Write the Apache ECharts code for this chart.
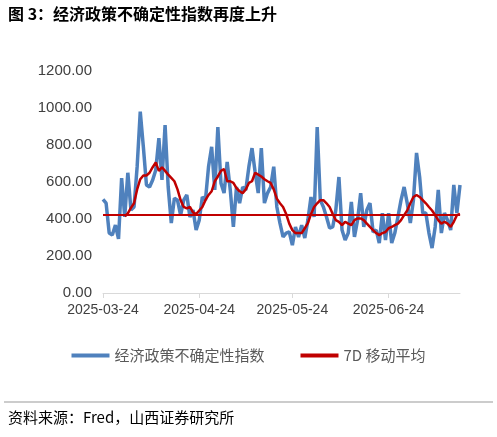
<!DOCTYPE html>
<html><head><meta charset="utf-8">
<script src="https://cdn.jsdelivr.net/npm/echarts@6/dist/echarts.min.js"></script>
<style>body{margin:0;background:#fff}#c{width:497px;height:437px}</style>
</head><body><div id="c"></div>
<script>
const startDate = '2025-03-24';
const epu = [506,486,324,313,367,292,621,411,650,449,465,683,980,790,584,573,611,665,837,611,908,573,378,513,502,421,502,530,411,449,
340,394,519,502,683,790,557,897,594,540,708,557,357,573,486,573,557,683,783,654,540,783,486,540,573,683,465,378,303,
324,330,259,357,303,367,297,394,519,411,897,502,465,411,351,357,449,627,340,286,324,492,303,394,540,357,449,486,330,340,
270,432,286,432,270,324,411,502,573,486,378,502,757,627,432,432,324,243,357,557,324,432,394,340,584,432,584];
const ma7 = [null,null,null,null,null,null,null,415,430,460,485,560,615,635,635,650,680,706,660,680,660,640,622,604,560,502,465,457,465,436,
427,446,465,502,530,550,604,630,660,670,604,604,595,567,550,540,560,595,604,650,640,630,615,604,595,560,510,485,465,
427,375,340,324,324,324,350,378,427,465,485,502,502,485,465,427,394,385,367,385,375,367,394,403,403,394,375,357,340,324,
313,324,330,350,357,367,375,394,421,446,485,519,530,519,502,485,465,446,421,394,375,385,375,357,385,421,427];
const baseline = 425;
const names = ['经济政策不确定性指数','7D 移动平均'];

const dates = [];
const d0 = new Date(startDate + 'T00:00:00Z');
for (let i = 0; i < epu.length; i++) {
  const d = new Date(d0.getTime() + i * 86400000);
  dates.push(d.toISOString().slice(0,10));
}
const isTick = (i, v) => v.endsWith('-24');
const chart = echarts.init(document.getElementById('c'));
chart.setOption({
  animation:false,
  graphic:[
    {type:'text',left:8,top:6,style:{text:'图 3：经济政策不确定性指数再度上升',font:'bold 16px "Noto Sans CJK SC"',fill:'#000'}},
    {type:'line',shape:{x1:4,y1:402,x2:493,y2:402},style:{stroke:'#999',lineWidth:1}},
    {type:'text',left:8,top:410,style:{text:'资料来源：Fred，山西证券研究所',font:'15px "Noto Sans CJK SC"',fill:'#000'}}
  ],
  legend:{top:343,left:'center',itemWidth:38,itemHeight:4,itemGap:36,
    textStyle:{color:'#595959',fontSize:15,fontFamily:'Noto Sans CJK SC'},
    data:[{name:names[0],icon:'rect'},{name:names[1],icon:'rect'}]},
  grid:{left:103,right:37,top:71,bottom:144},
  xAxis:{type:'category',data:dates,boundaryGap:false,
    axisLine:{lineStyle:{color:'#d9d9d9'}},
    axisTick:{interval:isTick,lineStyle:{color:'#d9d9d9'}},
    axisLabel:{interval:isTick,color:'#404040',fontSize:14,fontFamily:'Liberation Sans',margin:10}},
  yAxis:{type:'value',min:0,max:1200,interval:200,
    axisLine:{show:false},axisTick:{show:false},splitLine:{show:false},
    axisLabel:{formatter:v=>v.toFixed(2),color:'#404040',fontSize:15,fontFamily:'Liberation Sans',margin:11}},
  series:[
    {name:names[0],type:'line',data:epu,symbol:'none',lineStyle:{color:'#4f81bd',width:3.5},itemStyle:{color:'#4f81bd'},
     markLine:{silent:true,symbol:'none',label:{show:false},lineStyle:{color:'#c00000',width:2,type:'solid'},data:[{yAxis:baseline}]}},
    {name:names[1],type:'line',data:ma7,symbol:'none',lineStyle:{color:'#c00000',width:2.5},itemStyle:{color:'#c00000'}}
  ]
});
</script></body></html>
